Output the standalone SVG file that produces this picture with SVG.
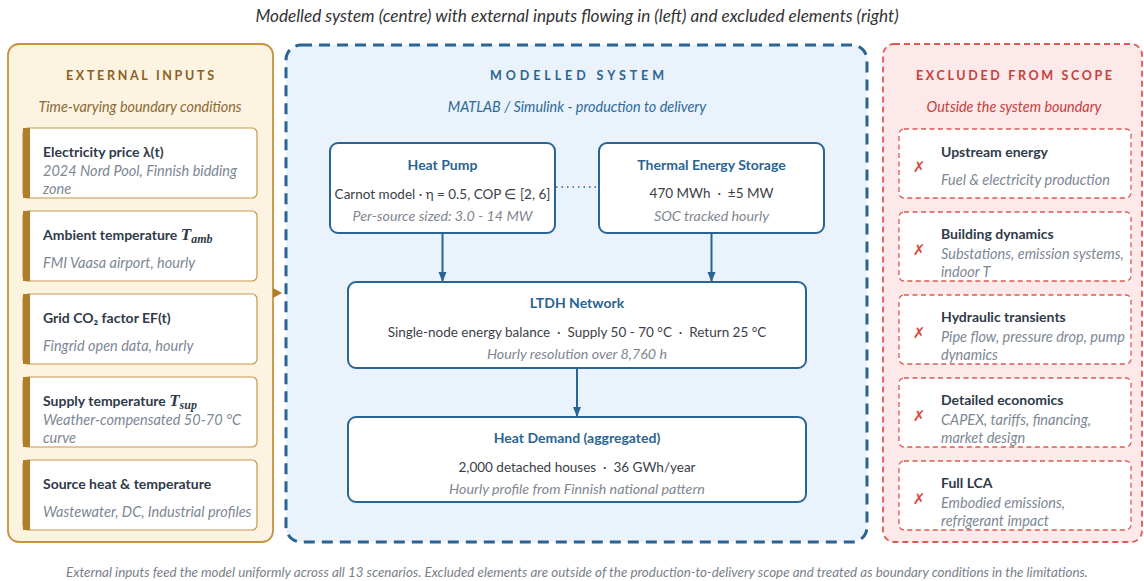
<svg xmlns="http://www.w3.org/2000/svg" width="1144" height="581" viewBox="0 0 1144 581">
<defs>
<style>
text{font-family:Lato,"Open Sans","Liberation Sans",sans-serif}
.cap{font-size:17.2px;font-style:italic;fill:#333}
.foot{font-size:13.4px;font-style:italic;fill:#7a808a}
.ptitle{font-size:12.5px;font-weight:bold}
.psub{font-size:14.4px;font-style:italic}
.ct{font-size:14px;font-weight:bold;fill:#2f3a4a}
.cs{font-size:14.5px;font-style:italic;fill:#7d8795}
.card{fill:#fff;stroke:#c9964c;stroke-width:1.2}
.bar{fill:#b07d2a}
.mbox{fill:#fff;stroke:#2a6492;stroke-width:2}
.mt{font-size:14px;font-weight:bold;fill:#2a6492}
.m2{font-size:13.5px;fill:#3b4048}
.m3{font-size:14.3px;font-style:italic;fill:#80868f}
.xbox{fill:#fff;stroke:#dc5a50;stroke-width:1.3;stroke-dasharray:5 3.5}
.xm{font-family:"DejaVu Sans",sans-serif;font-size:15px;fill:#d64a40}
.conn{stroke:#2a6492;stroke-width:2;fill:none}
.math{font-family:"Liberation Serif",serif;font-style:italic;font-weight:bold}
</style>
<marker id="ah" markerUnits="userSpaceOnUse" markerWidth="10" markerHeight="10" viewBox="0 0 10 10" refX="10" refY="5" orient="auto">
<path d="M0,1 L10,5 L0,9 Z" fill="#2a6492"/>
</marker>
</defs>

<rect width="1144" height="581" fill="#fff"/>
<text class="cap" x="577" y="22" text-anchor="middle">Modelled system (centre) with external inputs flowing in (left) and excluded elements (right)</text>

<g id="external-inputs">
<rect x="8" y="44" width="265" height="498" rx="11" fill="#fdf3e1" stroke="#c8923e" stroke-width="1.8"/>
<text class="ptitle" x="140" y="80" text-anchor="middle" fill="#8b6122" textLength="148" lengthAdjust="spacing">EXTERNAL INPUTS</text>
<text class="psub" x="140" y="112" text-anchor="middle" fill="#8b6a35">Time-varying boundary conditions</text>
</g>

<g id="in-price">
<rect class="card" x="23" y="128" width="234" height="70" rx="5"/>
<rect class="bar" x="23" y="128" width="7" height="70"/>
<text class="ct" x="43" y="157">Electricity price λ(t)</text>
<text class="cs" x="43" y="176">2024 Nord Pool, Finnish bidding</text>
<text class="cs" x="43" y="194">zone</text>
</g>
<g id="in-ambient">
<rect class="card" x="23" y="211" width="234" height="70" rx="5"/>
<rect class="bar" x="23" y="211" width="7" height="70"/>
<text class="ct" x="43" y="240">Ambient temperature <tspan class="math" font-size="17px">T</tspan><tspan class="math" font-size="12px" dy="3">amb</tspan></text>
<text class="cs" x="43" y="268">FMI Vaasa airport, hourly</text>
</g>
<g id="in-grid">
<rect class="card" x="23" y="294" width="234" height="70" rx="5"/>
<rect class="bar" x="23" y="294" width="7" height="70"/>
<text class="ct" x="43" y="323">Grid CO₂ factor EF(t)</text>
<text class="cs" x="43" y="351">Fingrid open data, hourly</text>
</g>
<g id="in-supply">
<rect class="card" x="23" y="377" width="234" height="70" rx="5"/>
<rect class="bar" x="23" y="377" width="7" height="70"/>
<text class="ct" x="43" y="406">Supply temperature <tspan class="math" font-size="17px">T</tspan><tspan class="math" font-size="12px" dy="3">sup</tspan></text>
<text class="cs" x="43" y="425">Weather-compensated 50-70 °C</text>
<text class="cs" x="43" y="443">curve</text>
</g>
<g id="in-source">
<rect class="card" x="23" y="460" width="234" height="70" rx="5"/>
<rect class="bar" x="23" y="460" width="7" height="70"/>
<text class="ct" x="43" y="489">Source heat &amp; temperature</text>
<text class="cs" x="43" y="517">Wastewater, DC, Industrial profiles</text>
</g>

<g id="modelled-system">
<rect x="286" y="45" width="581" height="497" rx="15" fill="#eaf3fb" stroke="#2a6492" stroke-width="3" stroke-dasharray="11 7"/>
<text class="ptitle" x="577" y="80" text-anchor="middle" fill="#2a6492" textLength="174" lengthAdjust="spacing">MODELLED SYSTEM</text>
<text class="psub" x="577" y="112" text-anchor="middle" fill="#2d6a9a">MATLAB / Simulink - production to delivery</text>
</g>

<g id="heat-pump">
<rect class="mbox" x="330" y="143" width="225" height="90" rx="8"/>
<text class="mt" x="442.5" y="170" text-anchor="middle">Heat Pump</text>
<text class="m2" x="442.5" y="199" text-anchor="middle">Carnot model · η = 0.5, COP ∈ [2, 6]</text>
<text class="m3" x="442.5" y="221" text-anchor="middle">Per-source sized: 3.0 - 14 MW</text>
</g>
<g id="tes">
<rect class="mbox" x="599" y="143" width="225" height="90" rx="8"/>
<text class="mt" x="711.5" y="170" text-anchor="middle">Thermal Energy Storage</text>
<text class="m2" x="711.5" y="198" text-anchor="middle">470 MWh&#160; · &#160;±5 MW</text>
<text class="m3" x="711.5" y="221" text-anchor="middle">SOC tracked hourly</text>
</g>
<g id="ltdh">
<rect class="mbox" x="348" y="282" width="458" height="86" rx="8"/>
<text class="mt" x="577" y="308" text-anchor="middle">LTDH Network</text>
<text class="m2" x="577" y="337" text-anchor="middle">Single-node energy balance&#160; · &#160;Supply 50 - 70 °C&#160; · &#160;Return 25 °C</text>
<text class="m3" x="577" y="359" text-anchor="middle">Hourly resolution over 8,760 h</text>
</g>
<g id="heat-demand">
<rect class="mbox" x="348" y="417" width="458" height="85" rx="8"/>
<text class="mt" x="577" y="443" text-anchor="middle">Heat Demand (aggregated)</text>
<text class="m2" x="577" y="472" text-anchor="middle">2,000 detached houses&#160; · &#160;36 GWh/year</text>
<text class="m3" x="577" y="494" text-anchor="middle">Hourly profile from Finnish national pattern</text>
</g>

<g id="excluded">
<rect x="883" y="44" width="259" height="498" rx="11" fill="#fde9e9" stroke="#dc5a50" stroke-width="1.8" stroke-dasharray="6 4"/>
<text class="ptitle" x="1014" y="80" text-anchor="middle" fill="#c7403a" textLength="196" lengthAdjust="spacing">EXCLUDED FROM SCOPE</text>
<text class="psub" x="1014" y="112" text-anchor="middle" fill="#c7403a">Outside the system boundary</text>
</g>
<g id="ex-upstream">
<rect class="xbox" x="899" y="129" width="232" height="69" rx="5"/>
<text class="xm" x="919" y="172" text-anchor="middle">✗</text>
<text class="ct" x="941" y="157">Upstream energy</text>
<text class="cs" x="941" y="185">Fuel &amp; electricity production</text>
</g>
<g id="ex-building">
<rect class="xbox" x="899" y="212" width="232" height="69" rx="5"/>
<text class="xm" x="919" y="255" text-anchor="middle">✗</text>
<text class="ct" x="941" y="239">Building dynamics</text>
<text class="cs" x="941" y="259">Substations, emission systems,</text>
<text class="cs" x="941" y="277">indoor T</text>
</g>
<g id="ex-hydraulic">
<rect class="xbox" x="899" y="295" width="232" height="69" rx="5"/>
<text class="xm" x="919" y="338" text-anchor="middle">✗</text>
<text class="ct" x="941" y="322">Hydraulic transients</text>
<text class="cs" x="941" y="342">Pipe flow, pressure drop, pump</text>
<text class="cs" x="941" y="360">dynamics</text>
</g>
<g id="ex-economics">
<rect class="xbox" x="899" y="378" width="232" height="69" rx="5"/>
<text class="xm" x="919" y="421" text-anchor="middle">✗</text>
<text class="ct" x="941" y="405">Detailed economics</text>
<text class="cs" x="941" y="425">CAPEX, tariffs, financing,</text>
<text class="cs" x="941" y="443">market design</text>
</g>
<g id="ex-lca">
<rect class="xbox" x="899" y="461" width="232" height="69" rx="5"/>
<text class="xm" x="919" y="504" text-anchor="middle">✗</text>
<text class="ct" x="941" y="488">Full LCA</text>
<text class="cs" x="941" y="508">Embodied emissions,</text>
<text class="cs" x="941" y="526">refrigerant impact</text>
</g>

<g id="connectors">
<line class="conn" x1="442.5" y1="233" x2="442.5" y2="282" marker-end="url(#ah)"/>
<line class="conn" x1="711.5" y1="233" x2="711.5" y2="282" marker-end="url(#ah)"/>
<line class="conn" x1="577" y1="368" x2="577" y2="417" marker-end="url(#ah)"/>
<line x1="556" y1="187" x2="598" y2="187" stroke="#2a6492" stroke-width="1.3" stroke-dasharray="1.5 4"/>
<path d="M273,288 L282,293 L273,298 Z" fill="#b07d2a"/>
</g>

<text class="foot" x="577" y="577" text-anchor="middle">External inputs feed the model uniformly across all 13 scenarios. Excluded elements are outside of the production-to-delivery scope and treated as boundary conditions in the limitations.</text>
</svg>
